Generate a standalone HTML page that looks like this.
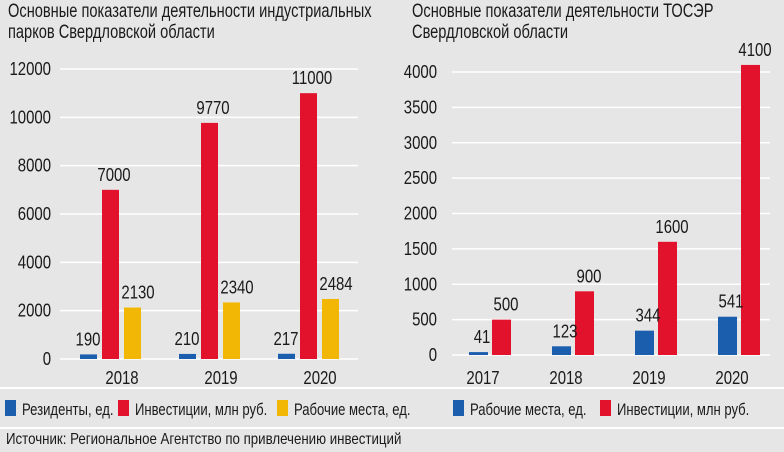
<!DOCTYPE html>
<html><head><meta charset="utf-8">
<style>
body{margin:0;background:#e6e6e6;}
#w{position:relative;width:784px;height:452px;background:#e6e6e6;overflow:hidden;font-family:"Liberation Sans",sans-serif;color:#1a1a1a;}
.t{position:absolute;font-size:19px;line-height:21px;transform:scaleX(0.77);transform-origin:0 0;white-space:nowrap;}
.sep{position:absolute;left:0;width:784px;height:2px;background:#fff;}
svg text{font-family:"Liberation Sans",sans-serif;fill:#1a1a1a;}
</style></head><body>
<div id="w">
<div class="t" style="left:8px;top:1px;">Основные показатели деятельности индустриальных<br>парков Свердловской области</div>
<div class="t" style="left:412px;top:1px;">Основные показатели деятельности ТОСЭР<br>Свердловской области</div>
<svg id="s" width="784" height="452" style="position:absolute;left:0;top:0"></svg>
<div class="sep" style="top:387px"></div>
<div class="sep" style="top:427px"></div>
<div class="t" style="left:6px;top:430px;font-size:16px;line-height:20px;transform:scaleX(0.83);">Источник: Региональное Агентство по привлечению инвестиций</div>
</div>
<script>
const leftYears=["2018","2019","2020"];
const leftResidents=[190,210,217];
const leftInvest=[7000,9770,11000];
const leftJobs=[2130,2340,2484];
const leftTicks=[0,2000,4000,6000,8000,10000,12000];
const rightYears=["2017","2018","2019","2020"];
const rightJobs=[41,123,344,541];
const rightInvest=[500,900,1600,4100];
const rightTicks=[0,500,1000,1500,2000,2500,3000,3500,4000];
const BLUE="#1b5eae",RED="#e2112c",YEL="#f2b705";
const svg=document.getElementById('s');
const NS="http://www.w3.org/2000/svg";
function mk(tag,a,txt){const e=document.createElementNS(NS,tag);for(const k in a)e.setAttribute(k,a[k]);if(txt!==undefined)e.textContent=txt;svg.appendChild(e);return e;}
function tx(x,y,anchor,size,str,sx){
 const g=document.createElementNS(NS,'g');
 g.setAttribute('transform','translate('+x+','+y+') scale('+(sx||0.83)+',1)');
 const t=document.createElementNS(NS,'text');
 t.setAttribute('text-anchor',anchor);t.setAttribute('font-size',size);
 t.textContent=str;g.appendChild(t);svg.appendChild(g);return t;
}
// left chart
const ly=v=>359-v/12000*290;
leftTicks.forEach(t=>{
 const l=mk('line',{x1:60,x2:358,y1:ly(t),y2:ly(t),stroke:'#fff','stroke-width':1.5});
 
 
 const e=tx(51,ly(t)+6,'end',18,t);
 
 
});
const leftSeries=[[leftResidents,BLUE,80,'resident'],[leftInvest,RED,102,'invest'],[leftJobs,YEL,124,'jobs']];
leftYears.forEach((yr,i)=>{
 const off=i*99;
 leftSeries.forEach(([arr,c,x0,nm])=>{
  const v=arr[i];
  const r=mk('rect',{x:x0+off,y:ly(v),width:17,height:359-ly(v),fill:c});
  
  
  const lx=nm==='resident'?x0+off+8:nm==='invest'?x0+off+12:x0+off+14;
  const e=tx(lx,ly(v)-9,'middle',18,v);
  
  
 });
 const e=tx(122+off,384,'middle',18,yr);
 
 
});
// right chart
const ry=v=>355-v/4000*283;
rightTicks.forEach(t=>{
 const l=mk('line',{x1:452,x2:770,y1:ry(t),y2:ry(t),stroke:'#fff','stroke-width':1.5});
 
 
 const e=tx(437,ry(t)+6,'end',18,t);
 
 
});
rightYears.forEach((yr,i)=>{
 const off=i*83;
 const b=mk('rect',{x:469+off,y:ry(rightJobs[i]),width:19,height:355-ry(rightJobs[i]),fill:BLUE});
 
 
 const r=mk('rect',{x:492+off,y:ry(rightInvest[i]),width:19,height:355-ry(rightInvest[i]),fill:RED});
 
 
 const t1=tx(482+off,ry(rightJobs[i])-9,'middle',18,rightJobs[i]);
 
 
 const t2=tx(506+off,ry(rightInvest[i])-9,'middle',18,rightInvest[i]);
 
 
 const xl=tx(483+off,384,'middle',18,yr);
 
 
});
// legends
const legs=[[5,BLUE,'Резиденты, ед.'],[118,RED,'Инвестиции, млн руб.'],[277,YEL,'Рабочие места, ед.'],[453,BLUE,'Рабочие места, ед.'],[600,RED,'Инвестиции, млн руб.']];
legs.forEach(([x,c,l])=>{
 const r=mk('rect',{x:x,y:400,width:11,height:16,fill:c});
 
 
 const t=tx(x+17,415,'start',17,l,0.77);
 
 
});
</script>
</body></html>
